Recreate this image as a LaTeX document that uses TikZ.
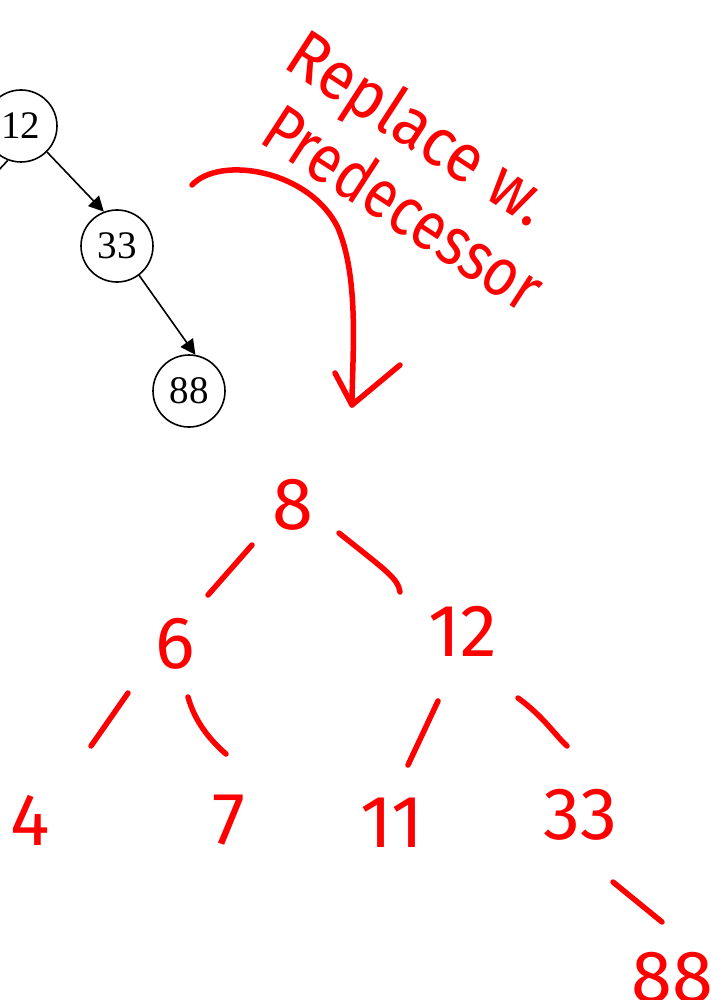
\documentclass[tikz,border=0pt]{standalone}
\usepackage{fontspec}
\setmainfont{Liberation Serif}
\newfontfamily\hand{Fira Sans}
\usetikzlibrary{arrows.meta,calc}
\definecolor{ink}{RGB}{255,0,0}
\begin{document}
\begin{tikzpicture}[x=1pt,y=-1pt,
  bnode/.style={circle,draw,line width=1.6pt,minimum size=72pt,inner sep=0pt,
    font=\fontsize{39}{39}\selectfont},
  bedge/.style={line width=1.6pt},
  barrow/.style={bedge,-{Triangle[length=15pt,width=15pt]}},
  redl/.style={draw=ink,line width=5.5pt,line cap=round},
  rnum/.style={text=ink,inner sep=0pt,font=\hand\fontsize{74}{74}\selectfont},
  rtext/.style={text=ink,inner sep=0pt,anchor=base west,rotate=-33,
    font=\hand\fontsize{68}{68}\selectfont}]
\useasboundingbox (0,0) rectangle (711,1000);
\clip (0,0) rectangle (711,1000);
% black tree
\node[bnode] (n12) at (21,126) {12};
\node[bnode] (n33) at (117,246) {33};
\node[bnode] (n88) at (189,391) {88};
\coordinate (lc) at (-18,188);
\draw[bedge] (n12.249) -- (lc);
\draw[barrow] (n12.-45) -- (n33.111);
\draw[barrow] (n33.-53) -- (n88.80);
% annotation
\node[rtext] (t1) at (281,66) {\scalebox{0.92}[1]{Replace w.}};
\node[rtext] (t2) at (257,141) {\scalebox{0.85}[1]{Predecessor}};
\coordinate (ca) at (192,185);
\coordinate (cb) at (352,405);
\coordinate (hl) at (335,373);
\coordinate (hr) at (400,365);
\draw[redl] (ca) .. controls (220,155) and (310,170) .. (338,228)
  .. controls (360,280) and (352,360) .. (cb);
\draw[redl,line join=round] (hl) -- (cb) -- (hr);
% red tree
\node[rnum] (r8) at (293,505) {8};
\node[rnum] (r6) at (175,644) {6};
\node[rnum] (r12) at (463,631) {12};
\node[rnum] (r4) at (30,820) {4};
\node[rnum] (r7) at (229,820) {7};
\node[rnum] (r11) at (392,823) {11};
\node[rnum] (r33) at (580,815) {33};
\node[rnum] (r88) at (672,978) {88};
\draw[redl] ($(r8)+(-41,40)$) -- ($(r6)+(33,-49)$);
\draw[redl] ($(r8)+(46,28)$) .. controls ($(r12)+(-78,-61)$) and ($(r12)+(-65,-53)$) .. ($(r12)+(-63,-39)$);
\draw[redl] ($(r6)+(-47,49)$) -- ($(r4)+(61,-74)$);
\draw[redl] ($(r6)+(13,53)$) .. controls ($(r6)+(20,78)$) and ($(r7)+(-19,-80)$) .. ($(r7)+(-3,-66)$);
\draw[redl] ($(r12)+(-25,70)$) -- ($(r11)+(16,-58)$);
\draw[redl] ($(r12)+(55,67)$) .. controls ($(r12)+(80,85)$) and ($(r33)+(-25,-80)$) .. ($(r33)+(-13,-69)$);
\draw[redl] ($(r33)+(33,67)$) -- ($(r88)+(-10,-56)$);
\end{tikzpicture}
\end{document}
